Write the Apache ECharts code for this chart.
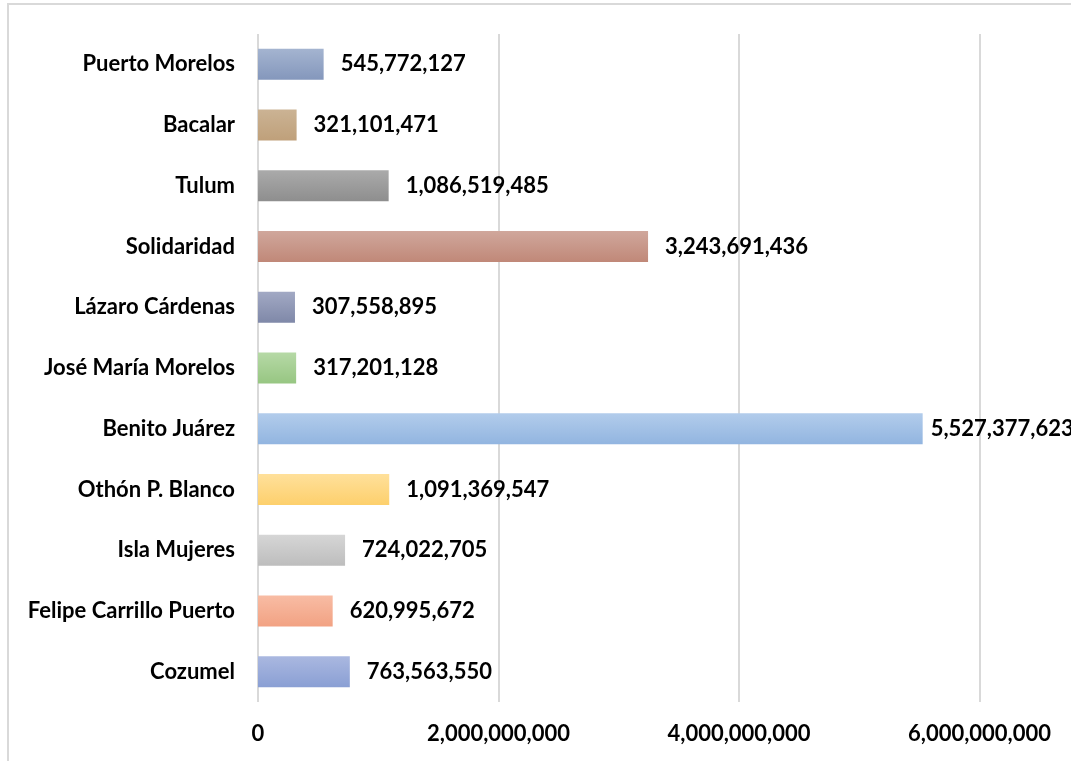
<!DOCTYPE html>
<html>
<head>
<meta charset="utf-8">
<script src="https://cdn.jsdelivr.net/npm/echarts@6/dist/echarts.min.js"></script>
<style>
    html, body { margin: 0; padding: 0; background: #fff; overflow: hidden; }
    #chart {
        position: absolute; left: 7px; top: 3px;
        width: 1400px; height: 800px;
        border-top: 2px solid #d9d9d9; border-left: 2px solid #d9d9d9;
    }
</style>
</head>
<body>
<div id="chart"></div>
<script>
// de abajo hacia arriba
var municipios = ['Cozumel', 'Felipe Carrillo Puerto', 'Isla Mujeres', 'Othón P. Blanco', 'Benito Juárez',
    'José María Morelos', 'Lázaro Cárdenas', 'Solidaridad', 'Tulum', 'Bacalar', 'Puerto Morelos'];
var montos = [763563550, 620995672, 724022705, 1091369547, 5527377623,
    317201128, 307558895, 3243691436, 1086519485, 321101471, 545772127];
// color claro arriba, oscuro abajo
var colores = [
    ['#aab8e0', '#8a9fd4'],
    ['#f8bca4', '#f2a283'],
    ['#d6d6d6', '#bdbdbd'],
    ['#ffe09b', '#fdd06c'],
    ['#b2cceb', '#92b5e0'],
    ['#b6d9a6', '#97c682'],
    ['#a2a9c4', '#7f88a8'],
    ['#d0a79c', '#c08878'],
    ['#aaaaaa', '#8e8e8e'],
    ['#cbb394', '#bfa07a'],
    ['#a4b4d0', '#8497bc']
];
var ticks = [0, 2000000000, 4000000000, 6000000000];

window.onload = function() {
    var chart = echarts.init(document.getElementById('chart'));
    var fmt = function(v) { return Number(v).toLocaleString('en-US'); };
    chart.setOption({
        animation: false,
        textStyle: { fontFamily: 'Lato', fontWeight: 'bold', color: '#000' },
        grid: { left: 249, top: 29, width: 962, height: 668 },
        xAxis: {
            type: 'value',
            min: 0,
            max: 8000000000,
            interval: 2000000000,
            axisLine: { show: false },
            axisTick: { show: false },
            splitLine: { lineStyle: { color: '#d9d9d9', width: 2 } },
            axisLabel: {
                margin: 21,
                fontSize: 22,
                fontWeight: 'bold',
                color: '#000',
                fontFamily: 'Lato',
                formatter: function(v) { return ticks.indexOf(v) >= 0 ? fmt(v) : ''; }
            }
        },
        yAxis: {
            type: 'category',
            data: municipios,
            axisLine: { show: false },
            axisTick: { show: false },
            axisLabel: {
                margin: 23,
                fontSize: 22,
                fontWeight: 'bold',
                color: '#000',
                fontFamily: 'Lato'
            }
        },
        series: [{
            type: 'bar',
            barWidth: 31,
            data: montos.map(function(v, i) {
                var item = {
                    value: v,
                    itemStyle: {
                        color: new echarts.graphic.LinearGradient(0, 0, 0, 1, [
                            { offset: 0, color: colores[i][0] },
                            { offset: 1, color: colores[i][1] }
                        ])
                    }
                };
                // la etiqueta más larga va más pegada a la barra
                if (municipios[i] === 'Benito Juárez') item.label = { distance: 8 };
                return item;
            }),
            label: {
                show: true,
                position: 'right',
                distance: 17,
                fontSize: 22,
                fontWeight: 'bold',
                color: '#000',
                fontFamily: 'Lato',
                formatter: function(p) { return fmt(p.value); }
            }
        }]
    });
};
</script>
</body>
</html>
